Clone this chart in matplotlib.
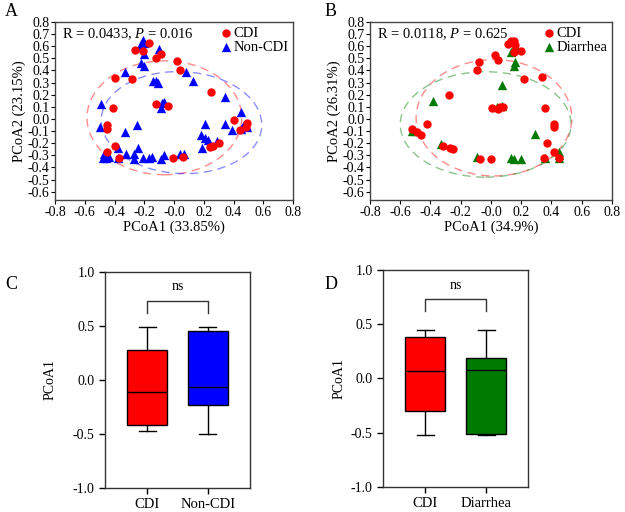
import matplotlib
matplotlib.use("Agg")
import matplotlib.pyplot as plt
from matplotlib.patches import Ellipse
import numpy as np

plt.rcParams['font.family'] = ['Liberation Serif', 'DejaVu Serif']
plt.rcParams['mathtext.fontset'] = 'custom'
plt.rcParams['mathtext.it'] = 'Liberation Serif:italic'
plt.rcParams['mathtext.rm'] = 'Liberation Serif'

# ---- Panel A data: CDI vs Non-CDI (PCoA) ----
a_cdi_x = [-0.26, -0.17, -0.21, -0.12, -0.09, 0.02, 0.04, -0.40, -0.28, 0.25, -0.41,
           -0.12, -0.04, -0.45, -0.45, -0.40, -0.45, -0.37, -0.01, 0.06, 0.24, 0.26,
           0.30, 0.40, 0.44, 0.49, 0.48]
a_cdi_y = [0.57, 0.63, 0.56, 0.50, 0.54, 0.48, 0.40, 0.34, 0.33, 0.22, 0.09,
           0.12, 0.11, -0.05, -0.08, -0.22, -0.27, -0.32, -0.32, -0.31, -0.23, -0.22,
           -0.20, -0.01, -0.09, -0.03, -0.07]
a_non_x = [-0.21, -0.22, -0.20, -0.23, -0.10, -0.20, -0.22, -0.20, -0.33, -0.14, -0.12,
           -0.11, 0.08, 0.13, 0.34, -0.49, -0.08, -0.09, -0.07, 0.45, -0.50, -0.25,
           -0.33, 0.21, 0.34, 0.39, 0.46, 0.48, 0.49, 0.45, 0.18, 0.21, 0.23, 0.29,
           0.19, -0.38, -0.24, -0.47, -0.46, -0.48, -0.44, -0.38, -0.32, -0.27, -0.27,
           -0.21, -0.17, -0.15, -0.09, -0.07, 0.04, 0.07]
a_non_y = [0.65, 0.62, 0.63, 0.59, 0.58, 0.54, 0.46, 0.44, 0.39, 0.31, 0.31,
           0.30, 0.39, 0.31, 0.18, 0.12, 0.13, 0.09, 0.14, 0.06, -0.07, -0.05,
           -0.11, -0.04, -0.04, -0.09, -0.06, -0.05, -0.07, -0.08, -0.13, -0.16, -0.17, -0.18,
           -0.24, -0.24, -0.24, -0.29, -0.32, -0.32, -0.31, -0.32, -0.29, -0.29, -0.33,
           -0.32, -0.32, -0.31, -0.33, -0.30, -0.29, -0.29]
# ellipses: centre x, centre y, width, height, angle
a_ell_cdi = [-0.065, 0.01, 1.04, 0.94, 0]
a_ell_non = [0.05, -0.03, 1.08, 0.84, -5]

# ---- Panel B data: CDI vs Diarrhea (PCoA) ----
b_cdi_x = [0.15, 0.13, 0.11, 0.16, 0.20, 0.15, 0.03, 0.05, -0.08, -0.09, 0.22, 0.34,
           -0.28, 0.01, 0.05, 0.06, 0.08, 0.36, 0.42, 0.42, 0.37, 0.42, 0.35, 0.45,
           -0.42, -0.52, -0.49, -0.46, -0.32, -0.27, -0.25, -0.07, 0.00]
b_cdi_y = [0.64, 0.64, 0.62, 0.61, 0.56, 0.55, 0.53, 0.49, 0.47, 0.40, 0.33, 0.35,
           0.20, 0.09, 0.08, 0.10, 0.10, 0.09, -0.04, -0.07, -0.20, -0.27, -0.32, -0.32,
           -0.04, -0.08, -0.11, -0.13, -0.22, -0.24, -0.25, -0.33, -0.33]
b_dia_x = [0.13, 0.16, 0.17, 0.16, 0.15, 0.07, -0.38, 0.04, 0.07, -0.52, -0.50,
           -0.33, -0.09, 0.13, 0.15, 0.20, 0.29, 0.36, 0.45, 0.45, 0.45]
b_dia_y = [0.55, 0.60, 0.58, 0.47, 0.44, 0.28, 0.15, 0.10, 0.11, -0.10, -0.10,
           -0.21, -0.31, -0.32, -0.33, -0.33, -0.12, -0.32, -0.27, -0.30, -0.32]
b_ell_cdi = [0.02, 0.01, 1.03, 0.96, 0]
b_ell_dia = [-0.035, -0.045, 1.13, 0.87, 0]

# ---- Panels C/D: box plot summary (whislo, q1, med, q3, whishi) ----
c_labels = ["CDI", "Non-CDI"]
c_cdi = [-0.47, -0.42, -0.11, 0.28, 0.49]
c_non = [-0.50, -0.23, -0.07, 0.45, 0.49]
d_labels = ["CDI", "Diarrhea"]
d_cdi = [-0.52, -0.30, 0.07, 0.38, 0.45]
d_dia = [-0.52, -0.51, 0.08, 0.19, 0.45]

RED = "#ff0000"
BLUE = "#0000ff"
GREEN = "#007a00"

fig = plt.figure(figsize=(6.25, 5.12), dpi=100)
axA = fig.add_axes([0.088, 0.609, 0.381, 0.348])
axB = fig.add_axes([0.592, 0.609, 0.387, 0.348])
axC = fig.add_axes([0.168, 0.047, 0.232, 0.422])
axD = fig.add_axes([0.613, 0.049, 0.232, 0.424])


def pcoa_panel(ax, x1, y1, x2, y2, c2, lab2, e1, e2, stat, xlab, ylab):
    for e, col in ((e1, RED), (e2, c2)):
        ax.add_patch(Ellipse((e[0], e[1]), e[2], e[3], angle=e[4], fill=False,
                             edgecolor=col, alpha=0.45, lw=1.0, ls=(0, (6, 4))))
    ax.scatter(x2, y2, marker='^', s=45, color=c2, label=lab2, zorder=3, linewidths=0)
    ax.scatter(x1, y1, marker='o', s=36, color=RED, label="CDI", zorder=3, linewidths=0)
    ax.set_xlim(-0.8, 0.8)
    ax.set_ylim(-0.67, 0.8)
    ax.set_xticks(np.arange(-0.8, 0.81, 0.2))
    ax.set_yticks(np.arange(-0.6, 0.81, 0.1))
    ax.set_xticklabels([f"{v:.1f}" for v in np.arange(-0.8, 0.81, 0.2)])
    ax.set_yticklabels([f"{v:.1f}" if abs(v) > 1e-9 else "0.0" for v in np.arange(-0.6, 0.81, 0.1)])
    ax.tick_params(labelsize=10, length=3, width=0.8, pad=1)
    ax.set_xlabel(xlab, fontsize=10.5, labelpad=1)
    ax.set_ylabel(ylab, fontsize=10.5, labelpad=1)
    for s in ax.spines.values():
        s.set_color("#444444")
        s.set_linewidth(1.0)
    h, l = ax.get_legend_handles_labels()
    ax.legend(h[::-1], l[::-1], loc="upper right", frameon=False, fontsize=10.5,
              handletextpad=0.0, borderaxespad=0.1, labelspacing=0.05,
              handlelength=1.0, borderpad=0.2)
    ax.text(0.03, 0.975, stat, transform=ax.transAxes, ha="left", va="top", fontsize=10.5)


pcoa_panel(axA, a_cdi_x, a_cdi_y, a_non_x, a_non_y, BLUE, "Non-CDI",
           a_ell_cdi, a_ell_non, r"R = 0.0433, $P$ = 0.016",
           "PCoA1 (33.85%)", "PCoA2 (23.15%)")
pcoa_panel(axB, b_cdi_x, b_cdi_y, b_dia_x, b_dia_y, GREEN, "Diarrhea",
           b_ell_cdi, b_ell_dia, r"R = 0.0118, $P$ = 0.625",
           "PCoA1 (34.9%)", "PCoA2 (26.31%)")


def box_panel(ax, labels, s1, s2, c2, ylabpad):
    stats = []
    for lab, s in zip(labels, (s1, s2)):
        stats.append(dict(label=lab, whislo=s[0], q1=s[1], med=s[2], q3=s[3], whishi=s[4]))
    bp = ax.bxp(stats, positions=[1, 2], widths=0.66, patch_artist=True, showfliers=False,
                capwidths=0.28,
                medianprops=dict(color="black", lw=1.0),
                whiskerprops=dict(color="black", lw=1.0),
                capprops=dict(color="black", lw=1.0),
                boxprops=dict(edgecolor="black", lw=1.0))
    for patch, col in zip(bp["boxes"], (RED, c2)):
        patch.set_facecolor(col)
    ax.set_xlim(0.31, 2.69)
    ax.set_ylim(-1.0, 1.0)
    ax.set_yticks([-1.0, -0.5, 0.0, 0.5, 1.0])
    ax.set_yticklabels(["-1.0", "-0.5", "0.0", "0.5", "1.0"])
    ax.tick_params(labelsize=10, length=4, width=1.0)
    ax.tick_params(axis="x", labelsize=10.5, pad=3)
    ax.set_ylabel("PCoA1", fontsize=10, labelpad=ylabpad)
    for s in ax.spines.values():
        s.set_color("#333333")
        s.set_linewidth(1.0)
    # significance bracket
    ax.plot([1, 1, 2, 2], [0.62, 0.73, 0.73, 0.62], color="#333333", lw=1.0)
    ax.text(1.5, 0.80, "ns", ha="center", va="bottom", fontsize=10)


box_panel(axC, c_labels, c_cdi, c_non, BLUE, 12)
box_panel(axD, d_labels, d_cdi, d_dia, GREEN, 4)

for lab, x, y in (("A", 0.008, 0.995), ("B", 0.52, 0.995), ("C", 0.008, 0.46), ("D", 0.52, 0.46)):
    fig.text(x, y, lab, fontsize=13, ha="left", va="top")

fig.savefig("out.png", dpi=100)
